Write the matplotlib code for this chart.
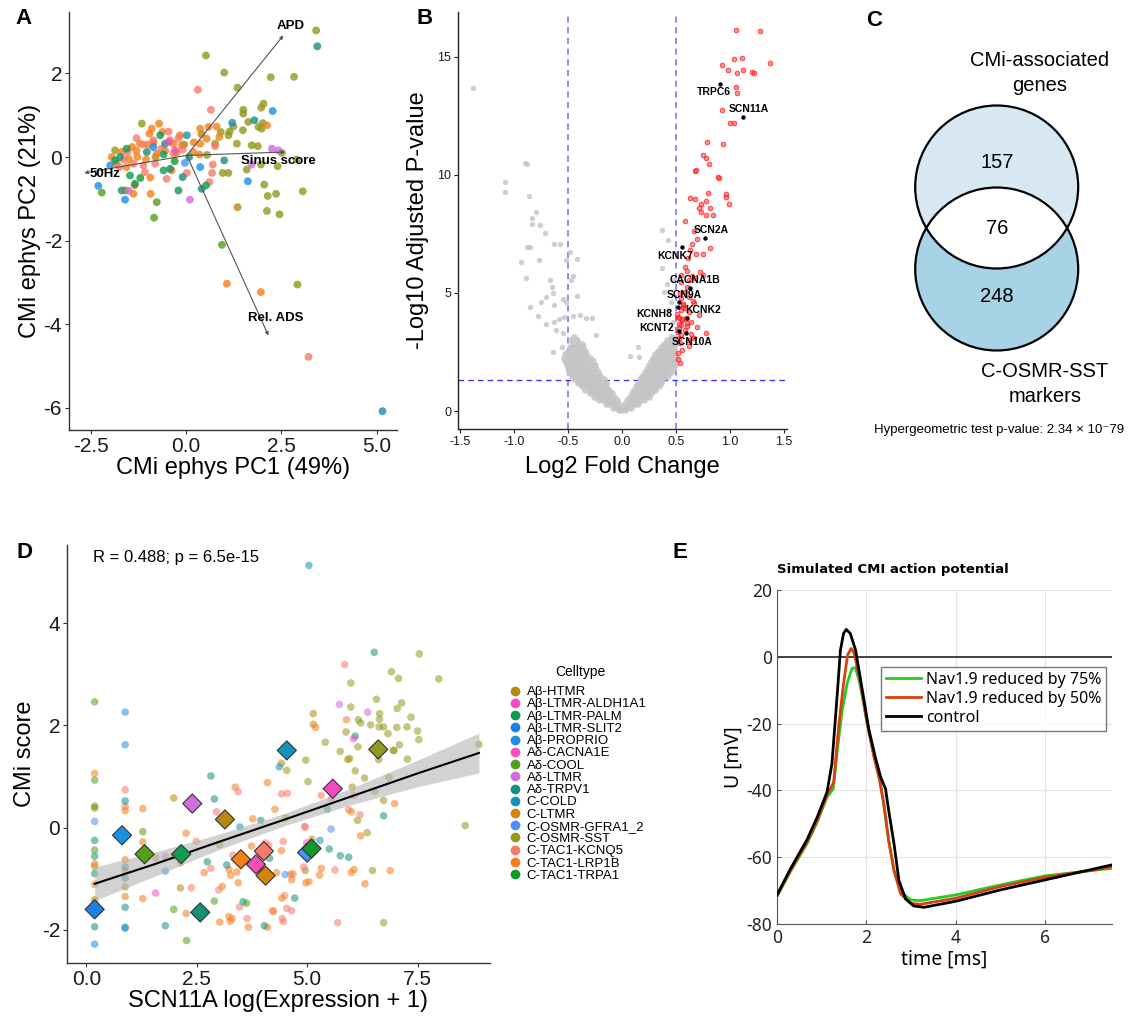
import numpy as np
import matplotlib
matplotlib.use('Agg')
import matplotlib.pyplot as plt
from matplotlib.patches import Circle
from matplotlib.lines import Line2D

plt.rcParams['font.family'] = ['Liberation Sans', 'DejaVu Sans']

# ---------------- data ----------------
celltypes = ['Aβ-HTMR', 'Aβ-LTMR-ALDH1A1', 'Aβ-LTMR-PALM', 'Aβ-LTMR-SLIT2', 'Aβ-PROPRIO',
             'Aδ-CACNA1E', 'Aδ-COOL', 'Aδ-LTMR', 'Aδ-TRPV1', 'C-COLD', 'C-LTMR',
             'C-OSMR-GFRA1_2', 'C-OSMR-SST', 'C-TAC1-KCNQ5', 'C-TAC1-LRP1B', 'C-TAC1-TRPA1']
celltype_colors = ['#B58A12', '#F14CC1', '#0F9B52', '#1B7FE8', '#1B8FE6', '#FA4DB8', '#53A018',
                   '#D16BE0', '#17907B', '#1491B6', '#D4830F', '#4D8FF5', '#93991C', '#F8796A',
                   '#F57F17', '#0D9A26']

# Panel A: PCA of ephys features
a_x = [3.41, 0.52, 1.0, 2.83, 2.22, 1.35, 2.03, 1.97, 1.50, 1.50, 1.63, 2.01, 1.90, 1.98, 1.24, 1.14,
       0.91, 1.11, 1.49, 1.33, 1.72, 1.88, 0.76, 2.40, 1.96, 1.59, 0.96, 1.11, 2.51, 2.90, 2.05, 2.36,
       2.14, 3.06, 2.12, 2.45, 2.92, -1.86, -1.16, 0.55, -0.05,
       1.35, 0.40, -0.80,
       -0.71, -0.90, -0.62, -0.96, -0.16, 0.37, 0.59, 0.80, 2.12, -1.21, -1.42, -1.69, -1.95, -1.82,
       -1.28, -1.05, -0.77, -0.33, -0.11, 0.37, 0.54, 0.19, 0.35, -0.94, -1.35, -1.38, -0.93, -0.38,
       1.07, 1.96, 0.87, -1.56, -1.30, -0.55, -1.00, -0.85, -1.50, 0.20, -0.25,
       0.31, 0.65, -0.46, -0.42, -0.86, -1.12, -1.54, -1.63, -1.38, -1.12, -0.81, -0.33, -0.09, 0.70,
       0.68, 0.61, 0.76, 0.02, -0.51, -1.08, 3.21, -1.75, -1.30, -0.65, -0.20,
       3.44, 1.79, 0.08, 1.00, -1.73, -1.03, -0.42, -0.09, 0.41, -1.69, -0.55,
       -0.68, -0.59, -1.56, -0.59, 0.52, -1.34, -1.47, -1.86, -0.20,
       -0.77, -0.84, 0.94, -2.21, -1.60,
       -1.20, -0.30,
       2.27, -0.86, 0.37, 1.62, -2.30, -1.60, -1.99,
       1.21, 5.15, 0.02,
       -0.03,
       2.25, 2.42, 1.72, 0.10, -1.51,
       -0.29, -0.46]
a_y = [3.03, 2.43, 2.02, 1.92, 1.91, 1.66, 1.28, 1.18, 1.13, 1.04, 0.84, 0.81, 0.72, 0.68, 0.73, 0.61,
       0.60, 0.52, 0.64, 0.32, 0.28, 0.26, 0.32, -0.22, -0.18, -0.30, -0.38, -0.38, 0.10, -0.06, -0.66,
       -0.88, -0.93, -0.82, -1.29, -1.37, -3.05, 0.16, 0.80, 0.05, 0.30,
       -1.20, 0.55, 0.00,
       0.80, 0.68, 0.60, 0.56, 0.52, 0.68, 0.72, 0.73, 0.76, 0.32, 0.24, 0.12, 0.00, -0.16,
       0.00, -0.06, 0.08, 0.32, 0.28, 0.32, 0.44, 0.12, 0.06, -0.49, -0.68, -0.88, -0.88, -0.32,
       -3.03, -3.23, 0.48, -0.24, 0.15, 0.15, 0.30, 0.35, -0.05, 0.35, 0.10,
       1.61, 1.13, 0.61, 0.40, 0.40, 0.30, 0.12, -0.06, -0.16, -0.20, -0.16, 0.08, 0.18, -0.18,
       -0.38, -0.60, 0.26, -0.38, -0.52, -0.36, -4.78, -0.24, 0.45, 0.20, 0.45,
       2.65, 0.88, 0.00, -0.08, 0.00, 0.12, -0.28, -0.48, -0.76, -0.80, 0.32,
       0.52, 0.06, 0.20, -0.32, -0.68, -0.64, -0.44, -0.08, -0.80,
       -1.08, -1.45, -2.10, -0.85, -0.80,
       -0.50, -0.10,
       1.10, 0.24, -0.24, -0.58, -0.69, -1.02, -0.20,
       0.82, -6.08, 0.52,
       -0.14,
       0.20, 0.16, -0.18, -1.02, -0.81,
       0.16, 0.36]
a_type = [12] * 41 + [0] * 3 + [14] * 39 + [13] * 25 + [8] * 11 + [2] * 9 + [6] * 5 + [15] * 2 + \
         [4] * 7 + [9] * 3 + [11] * 1 + [7] * 5 + [1] * 2
a_arrow_names = ['APD', 'Sinus score', 'Rel. ADS', '50Hz']
a_arrow_x = [2.55, 2.60, 2.16, -2.67]
a_arrow_y = [2.91, 0.12, -4.27, -0.38]

# Panel B: volcano
b_gray_rows = [
    (0.05, [-0.03, 0.0, 0.03]),
    (0.15, [-0.08, -0.05, -0.02, 0.02, 0.05, 0.08]),
    (0.30, [-0.15, -0.12, -0.09, -0.06, -0.03, 0.03, 0.06, 0.09, 0.12, 0.15]),
    (0.45, [-0.21, -0.18, -0.15, -0.12, -0.09, -0.05, 0.05, 0.08, 0.11, 0.14, 0.17, 0.20]),
    (0.60, [-0.26, -0.23, -0.20, -0.17, -0.14, -0.11, -0.07, 0.07, 0.10, 0.13, 0.16, 0.19, 0.22, 0.25]),
    (0.75, [-0.30, -0.27, -0.24, -0.21, -0.18, -0.15, -0.12, -0.09, 0.09, 0.12, 0.15, 0.18, 0.21, 0.24, 0.27]),
    (0.90, [-0.34, -0.31, -0.28, -0.25, -0.22, -0.19, -0.16, -0.12, 0.11, 0.14, 0.17, 0.20, 0.23, 0.26, 0.29, 0.31]),
    (1.05, [-0.37, -0.34, -0.31, -0.28, -0.25, -0.22, -0.19, -0.15, 0.13, 0.16, 0.19, 0.22, 0.25, 0.28, 0.31, 0.34]),
    (1.20, [-0.41, -0.38, -0.35, -0.32, -0.29, -0.26, -0.23, -0.19, -0.15, 0.15, 0.18, 0.21, 0.24, 0.27, 0.30, 0.33, 0.36]),
    (1.35, [-0.44, -0.41, -0.38, -0.35, -0.32, -0.29, -0.26, -0.22, -0.17, 0.17, 0.20, 0.23, 0.26, 0.29, 0.32, 0.35, 0.38]),
    (1.50, [-0.46, -0.43, -0.40, -0.37, -0.34, -0.31, -0.28, -0.24, -0.20, 0.19, 0.22, 0.25, 0.28, 0.31, 0.34, 0.37, 0.40, 0.43]),
    (1.65, [-0.48, -0.45, -0.42, -0.39, -0.36, -0.33, -0.30, -0.26, -0.22, 0.21, 0.24, 0.27, 0.30, 0.33, 0.36, 0.39, 0.42, 0.45]),
    (1.80, [-0.50, -0.47, -0.44, -0.41, -0.38, -0.35, -0.32, -0.28, -0.24, 0.23, 0.26, 0.29, 0.32, 0.35, 0.38, 0.41, 0.44, 0.47]),
    (1.95, [-0.51, -0.48, -0.45, -0.42, -0.39, -0.36, -0.33, -0.29, -0.25, 0.25, 0.28, 0.31, 0.34, 0.37, 0.40, 0.43, 0.46, 0.49]),
    (2.10, [-0.53, -0.50, -0.47, -0.44, -0.41, -0.38, -0.35, -0.31, -0.27, 0.27, 0.30, 0.33, 0.36, 0.39, 0.42, 0.45, 0.48]),
    (2.25, [-0.54, -0.50, -0.46, -0.42, -0.38, -0.34, -0.30, 0.29, 0.32, 0.35, 0.38, 0.41, 0.44, 0.47, 0.50]),
    (2.40, [-0.53, -0.49, -0.45, -0.41, -0.37, -0.33, 0.31, 0.34, 0.37, 0.40, 0.43, 0.46, 0.49]),
    (2.55, [-0.50, -0.46, -0.42, -0.38, -0.34, 0.33, 0.36, 0.39, 0.42, 0.45, 0.48]),
    (2.70, [-0.48, -0.44, -0.40, -0.36, 0.36, 0.39, 0.42, 0.45, 0.48]),
    (2.85, [-0.45, -0.41, -0.37, 0.39, 0.42, 0.46, 0.49]),
    (3.00, [-0.47, -0.42, 0.42, 0.45, 0.48]),
    (3.15, [-0.44, 0.45, 0.48]),
]
b_gray_out_x = [-1.38, -1.08, -1.08, -0.90, -0.88, -0.86, -0.80, -0.83, -0.83, -0.76, -0.71, -0.88,
                -0.85, -0.63, -0.57, -0.94, -0.77, -0.52, -0.48, -0.42, -0.89, -0.67, -0.65, -0.64,
                -0.45, -0.47, -0.85, -0.75, -0.70, -0.63, -0.55, -0.52, -0.42, -0.78, -0.70, -0.63,
                -0.58, -0.54, -0.45, -0.39, -0.33, -0.28, -0.61, -0.55, -0.64, -0.56, -0.24, 0.37,
                0.43, 0.37, 0.47, 0.42, 0.39, 0.45, 0.44, 0.47, 0.07, 0.15, 0.16]
b_gray_out_y = [13.69, 9.71, 9.28, 10.51, 10.48, 9.12, 8.41, 8.16, 7.92, 7.86, 7.52, 6.96,
                6.93, 7.06, 7.07, 6.32, 6.39, 6.39, 6.72, 6.42, 5.62, 5.57, 5.24, 5.02,
                5.71, 5.55, 4.39, 4.63, 4.84, 4.49, 4.74, 4.63, 4.88, 4.02, 3.67, 3.78,
                3.88, 3.99, 4.02, 4.06, 3.92, 3.92, 3.43, 3.29, 2.51, 2.72, 3.22, 7.66,
                7.24, 6.04, 5.55, 5.40, 5.05, 4.63, 4.28, 3.78, 2.33, 2.72, 2.30]
b_red_x = [1.06, 1.28, 1.11, 1.04, 0.93, 0.98, 1.12, 1.37, 1.07, 1.21, 1.22, 1.06, 1.07, 0.93, 1.00,
           1.04, 0.79, 0.94, 0.75, 0.78, 0.81, 0.68, 0.69, 0.89, 0.90, 0.80, 0.96, 0.63, 0.68, 0.96,
           0.78, 0.99, 0.73, 0.82, 0.71, 0.73, 0.78, 0.84, 0.58, 0.67, 0.70, 0.65, 0.82, 0.63, 0.75,
           0.69, 0.61, 0.58, 0.72, 0.75, 0.60, 0.55, 0.62, 0.65, 0.68, 0.55, 0.60, 0.58, 0.62, 0.55,
           0.67, 0.57, 0.55, 0.62, 0.71, 0.52, 0.56, 0.60, 0.64, 0.55, 0.53, 0.58, 0.52, 0.78, 0.55,
           0.64, 0.53, 0.61, 0.67, 0.54, 0.62, 0.56, 0.52, 0.52, 0.54, 0.57, 0.53, 0.59, 0.51, 0.66,
           0.70, 0.56, 0.54, 0.58, 0.60, 0.53, 0.57]
b_red_y = [16.13, 16.09, 14.97, 14.93, 14.65, 14.46, 14.46, 14.72, 14.32, 14.36, 14.30, 13.73, 13.45,
           12.74, 12.18, 12.18, 11.40, 11.30, 10.84, 10.72, 10.48, 10.17, 10.22, 9.92, 9.86, 9.24,
           9.21, 9.03, 8.96, 9.05, 8.89, 8.75, 8.76, 8.62, 8.58, 8.44, 8.32, 8.30, 8.04, 7.62, 7.28,
           7.06, 6.89, 6.84, 6.67, 6.67, 6.49, 6.11, 5.87, 5.76, 5.95, 5.76, 5.55, 5.70, 5.62, 5.47,
           5.26, 5.05, 4.84, 4.77, 4.59, 4.49, 4.28, 4.20, 4.06, 3.99, 3.85, 3.74, 3.78, 3.64, 3.50,
           3.43, 3.36, 3.32, 3.22, 3.25, 3.08, 3.01, 3.08, 2.89, 2.75, 2.58, 2.44, 2.20, 2.02, 4.40,
           3.70, 3.95, 4.10, 4.65, 3.55, 3.90, 5.00, 4.35, 3.60, 3.95, 4.55]
b_gene_names = ['TRPC6', 'SCN11A', 'SCN2A', 'KCNK7', 'CACNA1B', 'SCN9A', 'KCNK2', 'KCNH8', 'KCNT2', 'SCN10A']
b_gene_x = [0.91, 1.12, 0.77, 0.56, 0.63, 0.53, 0.60, 0.52, 0.53, 0.59]
b_gene_y = [13.87, 12.46, 7.34, 6.93, 5.23, 4.63, 3.95, 4.42, 3.40, 3.29]
b_label_x = [0.85, 1.18, 0.83, 0.49, 0.68, 0.58, 0.75, 0.30, 0.32, 0.65]
b_label_y = [13.52, 12.78, 7.66, 6.56, 5.55, 4.91, 4.28, 4.09, 3.50, 2.91]

# Panel C: Venn
venn_sets = ['CMi-associated\ngenes', 'C-OSMR-SST\nmarkers']
venn_only_a, venn_both, venn_only_b = 157, 76, 248
venn_p_text = 'Hypergeometric test p-value: 2.34 × 10⁻79'

# Panel D: CMi score vs SCN11A
d_x = [7.54, 6.91, 7.07, 7.98, 5.99, 6.57, 7.14, 5.99, 7.04, 6.64, 7.35, 6.16, 6.21, 6.64, 6.44, 6.63,
       6.73, 7.03, 7.26, 7.50, 5.88, 6.83, 7.53, 5.41, 6.15, 7.09, 6.95, 6.97, 5.75, 8.89, 6.62, 7.27,
       4.97, 6.09, 6.30, 6.85, 5.02, 6.02, 6.53, 6.73, 6.14, 6.36, 8.58, 6.48, 6.73, 4.96, 5.92,
       5.14, 5.14, 5.96, 4.42, 4.54, 4.51, 3.02, 1.98, 0.19, 0.19, 0.19, 0.88, 0.88, 2.13, 1.57, 5.11,
       5.85, 0.88, 0.88, 2.49, 2.82, 3.32, 3.44, 4.06, 4.13, 3.00, 3.47, 3.64, 4.46, 4.42, 4.55, 4.68,
       4.49, 4.54, 4.65, 4.44, 4.46, 4.95, 4.92, 5.32, 5.55, 6.06, 5.94, 6.20, 4.95, 5.63, 5.69, 2.38,
       2.95, 4.24,
       0.19, 0.88, 1.28, 2.26, 1.28, 0.19, 0.19, 0.19, 0.88, 0.88, 1.28, 1.98, 2.13, 2.67, 3.23, 3.27,
       3.41, 3.37, 3.77, 4.10, 4.27, 3.74, 3.44, 3.08, 3.23, 3.30, 3.26, 3.02, 3.67, 4.10, 4.22, 4.31,
       4.42, 4.63, 4.65, 4.43, 4.97, 5.89, 5.19, 6.98, 6.00, 6.21, 5.32, 5.28, 6.00, 6.06, 6.88, 6.31,
       5.04, 2.26,
       6.52, 6.09, 2.82, 2.90, 3.95, 0.88, 0.19, 0.19, 0.19, 0.19, 0.88, 0.88, 0.88, 0.88, 1.79, 2.74,
       3.18, 4.15, 3.55, 4.03, 4.72, 5.46, 6.73, 5.50, 5.75, 5.94,
       0.19, 0.19, 0.19, 1.28, 0.19, 0.19, 1.98, 2.27, 2.90, 3.63,
       3.92, 0.19,
       0.88, 0.88, 0.19, 0.88, 1.79,
       5.04, 4.37, 3.48, 5.29,
       5.54, 4.50, 0.19,
       5.73, 6.37, 1.79,
       6.05, 1.57, 4.99]
d_y = [3.40, 3.05, 2.92, 2.91, 2.83, 2.51, 2.44, 2.36, 2.33, 2.23, 2.16, 2.11, 2.05, 2.12, 2.01, 1.97,
       1.97, 1.96, 1.97, 1.89, 1.87, 1.84, 1.72, 1.67, 1.58, 1.62, 1.51, 1.51, 1.49, 1.63, 1.33, 1.34,
       1.32, 1.11, 0.97, 0.98, 0.90, 0.79, 0.71, 0.53, 0.14, -0.10, 0.04, -0.84, -1.86, -0.84, 1.33,
       2.23, 2.02, 1.35, 1.26, 1.12, 0.19, -0.34, 0.58, 0.38, -0.76, -1.41, -0.85, -1.16, -1.18, -0.59, -0.23,
       3.19, 0.74, 0.41, -0.27, -0.80, -0.54, 0.70, -0.30, -0.35, -1.22, -1.55, -1.78, -0.27, 0.66, 0.67, -0.91,
       -1.33, -1.58, -1.63, -1.78, -1.84, 0.02, -0.77, 0.63, 0.57, 0.63, 0.35, 0.25, 0.01, -0.83, -1.86, -1.18,
       0.31, -1.64,
       1.06, 0.33, 0.37, -0.11, -0.28, -0.71, -1.11, -1.46, -0.63, -1.35, -1.39, -0.56, -0.69, -0.88, -0.82, -0.93,
       -0.87, 0.79, 0.17, 0.88, 0.36, -0.36, -1.08, -1.15, -1.74, -1.78, -1.83, -1.85, -1.95, -1.95, -1.63, -0.88,
       -0.45, -0.91, -1.02, -1.38, -1.08, 2.11, 1.96, 0.47, 0.31, -0.16, -0.80, -0.93, -0.88, -0.82, -0.84, -1.10,
       -1.06, -1.68,
       3.43, 1.79, 1.01, 0.56, 0.14, 0.52, -0.25, -0.56, -0.90, -1.94, -0.77, -0.99, -1.56, -1.95, -1.92, -0.67,
       -0.73, -0.60, -1.45, -1.92, -1.38, 0.36, 0.23, -0.42, -0.55, -0.58,
       2.46, 0.93, 0.42, -0.08, -0.44, -1.69, -1.60, -2.21, -1.44, -1.48,
       -0.82, -1.65,
       2.26, 1.62, -2.28, -1.97, -0.85,
       5.13, 1.19, 0.01, -0.25,
       -0.03, -0.92, 0.12,
       2.41, 2.26, -0.56,
       1.74, -1.28, -0.30]
d_type = [12] * 47 + [0] * 16 + [13] * 34 + [14] * 50 + [8] * 26 + [6] * 10 + [15] * 2 + [4] * 5 + \
         [9] * 4 + [11] * 3 + [7] * 3 + [1] * 3
d_mean_x = [3.14, 5.58, 2.15, 0.19, 0.81, 3.84, 1.32, 2.40, 2.58, 4.54, 4.06, 5.00, 6.61, 4.02, 3.50, 5.10]
d_mean_y = [0.16, 0.76, -0.52, -1.60, -0.15, -0.72, -0.52, 0.47, -1.66, 1.51, -0.94, -0.49, 1.53, -0.46, -0.62, -0.41]
d_fit_x = [0.19, 1.5, 3.0, 4.5, 6.0, 7.5, 8.89]
d_fit_y = [-1.10, -0.73, -0.28, 0.16, 0.61, 1.06, 1.46]
d_fit_half = [0.33, 0.24, 0.15, 0.12, 0.16, 0.26, 0.39]
d_stat_text = 'R = 0.488; p = 6.5e-15'

# Panel E: simulated action potentials
e_t_ctrl = [0.0, 0.3, 0.67, 0.9, 1.12, 1.23, 1.35, 1.42, 1.49, 1.55, 1.64, 1.76, 1.91, 2.06, 2.2, 2.32,
            2.43, 2.5, 2.62, 2.73, 2.88, 3.06, 3.29, 4.0, 5.0, 6.0, 7.5]
e_v_ctrl = [-71.3, -63.5, -54.8, -48.0, -40.5, -32.0, -11.0, 2.0, 7.0, 8.2, 7.0, 2.0, -10.0, -22.0, -30.0,
            -36.0, -39.5, -46.0, -56.0, -67.0, -72.5, -74.6, -75.0, -73.2, -69.8, -66.8, -62.3]
e_t_50 = [0.0, 0.3, 0.67, 0.9, 1.12, 1.27, 1.38, 1.49, 1.58, 1.66, 1.73, 1.87, 2.02, 2.17, 2.3, 2.39,
          2.5, 2.62, 2.77, 2.99, 3.21, 4.0, 5.0, 6.0, 7.5]
e_v_50 = [-71.5, -64.0, -55.5, -49.0, -41.5, -37.5, -21.0, -8.0, 0.5, 2.5, 1.0, -8.0, -20.0, -30.0, -37.0,
          -44.0, -55.0, -64.0, -71.0, -73.8, -74.1, -72.3, -68.8, -66.0, -63.0]
e_t_75 = [0.0, 0.3, 0.67, 0.9, 1.12, 1.26, 1.35, 1.46, 1.57, 1.68, 1.76, 1.87, 2.02, 2.17, 2.3, 2.39,
          2.5, 2.62, 2.77, 2.99, 3.21, 4.0, 5.0, 6.0, 7.5]
e_v_75 = [-71.8, -64.3, -56.0, -49.5, -42.0, -39.5, -28.0, -16.0, -8.0, -3.5, -3.2, -9.0, -20.0, -29.0,
          -37.0, -44.0, -55.0, -64.0, -70.3, -72.8, -73.0, -71.3, -68.3, -65.6, -63.3]
e_labels = ['Nav1.9 reduced by 75%', 'Nav1.9 reduced by 50%', 'control']
e_colors = ['#22CC22', '#D9400F', '#000000']

# ---------------- figure ----------------
W, H = 1136, 1018
fig = plt.figure(figsize=(W / 100, H / 100), dpi=100)


def rect(l, t, r, b):
    return [l / W, 1 - b / H, (r - l) / W, (b - t) / H]


def gg_style(ax, tick_size, axis_color='#333333'):
    for s in ['top', 'right']:
        ax.spines[s].set_visible(False)
    for s in ['left', 'bottom']:
        ax.spines[s].set_color(axis_color)
        ax.spines[s].set_linewidth(1.0)
    ax.tick_params(length=3, width=0.8, color=axis_color, labelsize=tick_size, labelcolor='#1a1a1a', pad=2)


# Panel A
ax_a = fig.add_axes(rect(69, 12, 397, 430))
ax_a.scatter(a_x, a_y, c=[celltype_colors[i] for i in a_type], s=32, alpha=0.8, linewidths=0, zorder=2)
ox, oy = 0.02, 0.04
for name, ex, ey in zip(a_arrow_names, a_arrow_x, a_arrow_y):
    ax_a.annotate('', xy=(ex, ey), xytext=(ox, oy),
                  arrowprops=dict(arrowstyle='-|>', color='#555555', lw=0.8, mutation_scale=5,
                                  shrinkA=0, shrinkB=0), zorder=3)
label_pos = {'APD': (2.73, 3.13), 'Sinus score': (2.42, -0.10), 'Rel. ADS': (2.34, -3.84), '50Hz': (-2.12, -0.40)}
for name in a_arrow_names:
    lx, ly = label_pos[name]
    ax_a.text(lx, ly, name, fontsize=9.5, fontweight='bold', ha='center', va='center', zorder=4)
ax_a.set_xlim(-3.07, 5.53)
ax_a.set_ylim(-6.53, 3.47)
ax_a.set_xticks([-2.5, 0, 2.5, 5.0])
ax_a.set_xticklabels(['-2.5', '0.0', '2.5', '5.0'])
ax_a.set_yticks([-6, -4, -2, 0, 2])
ax_a.set_yticklabels(['-6', '-4', '-2', '0', '2'])
gg_style(ax_a, 15)
ax_a.set_xlabel('CMi ephys PC1 (49%)', fontsize=17, labelpad=1)
ax_a.set_ylabel('CMi ephys PC2 (21%)', fontsize=17, labelpad=2)

# Panel B
ax_b = fig.add_axes(rect(458, 12, 787, 429))
gx, gy = [], []
for yv, xs in b_gray_rows:
    gx += xs
    gy += [yv] * len(xs)
ax_b.scatter(gx, gy, s=22, color='#C4C4C4', alpha=0.85, linewidths=0, zorder=2)
ax_b.scatter(b_gray_out_x, b_gray_out_y, s=15, color='#C4C4C4', alpha=0.8, linewidths=0, zorder=2)
ax_b.scatter(b_red_x, b_red_y, s=12, facecolor=(1, 0.25, 0.25, 0.6), edgecolor=(1, 0, 0, 0.8),
             linewidths=0.5, zorder=3)
ax_b.scatter(b_gene_x, b_gene_y, s=10, color='black', linewidths=0, zorder=4)
for n, lx, ly in zip(b_gene_names, b_label_x, b_label_y):
    ax_b.text(lx, ly, n, fontsize=7.5, fontweight='bold', ha='center', va='center', zorder=5)
ax_b.axvline(-0.5, color='#6E6EF5', lw=1.1, ls=(0, (4, 3)), zorder=1)
ax_b.axvline(0.5, color='#6E6EF5', lw=1.1, ls=(0, (4, 3)), zorder=1)
ax_b.axhline(1.3, color='#3A3AEE', lw=1.0, ls=(0, (4, 3)), zorder=1)
ax_b.set_xlim(-1.52, 1.53)
ax_b.set_ylim(-0.76, 16.9)
ax_b.set_xticks([-1.5, -1.0, -0.5, 0, 0.5, 1.0, 1.5])
ax_b.set_xticklabels(['-1.5', '-1.0', '-0.5', '0.0', '0.5', '1.0', '1.5'])
ax_b.set_yticks([0, 5, 10, 15])
gg_style(ax_b, 9, axis_color='#222222')
ax_b.set_xlabel('Log2 Fold Change', fontsize=17, labelpad=6)
ax_b.set_ylabel('-Log10 Adjusted P-value', fontsize=17, labelpad=6)

# Panel C
ax_c = fig.add_axes(rect(795, 0, 1136, 458))
ax_c.set_xlim(795, 1136)
ax_c.set_ylim(458, 0)
ax_c.axis('off')
c_up = Circle((996.7, 187), 81.5, facecolor='#D7E8F2', edgecolor='none', zorder=1)
c_lo = Circle((996.7, 269), 81.5, facecolor='#A8D2E6', edgecolor='none', zorder=1)
ax_c.add_patch(c_up)
ax_c.add_patch(c_lo)
lens = Circle((996.7, 187), 81.5, facecolor='white', edgecolor='none', zorder=2)
ax_c.add_patch(lens)
lens.set_clip_path(c_lo)
for cy in (187, 269):
    ax_c.add_patch(Circle((996.7, cy), 81.5, facecolor='none', edgecolor='black', lw=1.6, zorder=3))
ax_c.text(996.7, 162, str(venn_only_a), fontsize=14.5, ha='center', va='center', zorder=4)
ax_c.text(996.7, 229, str(venn_both), fontsize=14.5, ha='center', va='center', zorder=4)
ax_c.text(996.7, 296, str(venn_only_b), fontsize=14.5, ha='center', va='center', zorder=4)
ax_c.text(1040, 73, venn_sets[0], fontsize=14.5, ha='center', va='center', linespacing=1.35)
ax_c.text(1045, 384, venn_sets[1], fontsize=14.5, ha='center', va='center', linespacing=1.35)
ax_c.text(999, 430, venn_p_text, fontsize=9.5, ha='center', va='center',
          family=['Liberation Sans', 'DejaVu Sans'])

# Panel D
ax_d = fig.add_axes(rect(67, 545, 490, 963))
ax_d.scatter(d_x, d_y, c=[celltype_colors[i] for i in d_type], s=30, alpha=0.55, linewidths=0, zorder=2)
lo = [y - h for y, h in zip(d_fit_y, d_fit_half)]
hi = [y + h for y, h in zip(d_fit_y, d_fit_half)]
ax_d.fill_between(d_fit_x, lo, hi, color='#B5B5B5', alpha=0.6, lw=0, zorder=3)
ax_d.plot(d_fit_x, d_fit_y, color='black', lw=1.5, zorder=4)
ax_d.scatter(d_mean_x, d_mean_y, c=celltype_colors, marker='D', s=95, edgecolors='#333333',
             linewidths=0.8, zorder=5)
ax_d.text(0.16, 5.28, d_stat_text, fontsize=12, ha='left', va='center')
ax_d.set_xlim(-0.436, 9.14)
ax_d.set_ylim(-2.65, 5.53)
ax_d.set_xticks([0, 2.5, 5.0, 7.5])
ax_d.set_xticklabels(['0.0', '2.5', '5.0', '7.5'])
ax_d.set_yticks([-2, 0, 2, 4])
ax_d.set_yticklabels(['-2', '0', '2', '4'])
gg_style(ax_d, 15)
ax_d.set_xlabel('SCN11A log(Expression + 1)', fontsize=17, labelpad=1)
ax_d.set_ylabel('CMi score', fontsize=17, labelpad=4)
handles = [Line2D([0], [0], marker='o', ls='', color=c, markersize=6) for c in celltype_colors]
fig.text(580 / W, 1 - 672 / H, 'Celltype', fontsize=10, ha='center', va='center')
leg = ax_d.legend(handles, celltypes, loc='upper left',
                  bbox_to_anchor=(508 / W, 1 - 686 / H), bbox_transform=fig.transFigure,
                  frameon=False, fontsize=9.5, labelspacing=0.0,
                  handletextpad=0.4, handlelength=1.0, borderpad=0, borderaxespad=0)

# Panel E
efont = ['Noto Sans', 'DejaVu Sans']
ax_e = fig.add_axes(rect(777, 590, 1112, 924))
ax_e.grid(True, color='#E3E3E3', lw=0.8, zorder=0)
ax_e.axhline(0, color='#333333', lw=1.3, zorder=2)
for t, v, lab, col in zip([e_t_75, e_t_50, e_t_ctrl], [e_v_75, e_v_50, e_v_ctrl], e_labels, e_colors):
    ax_e.plot(t, v, color=col, lw=2.0, label=lab, zorder=3)
ax_e.set_xlim(0, 7.5)
ax_e.set_ylim(-80, 20)
ax_e.set_xticks([0, 2, 4, 6])
ax_e.set_yticks([-80, -60, -40, -20, 0, 20])
ax_e.set_yticklabels(['-80', '-60', '-40', '-20', '0', '20'], family=efont)
ax_e.set_xticklabels(['0', '2', '4', '6'], family=efont)
for s in ['top', 'right']:
    ax_e.spines[s].set_visible(False)
for s in ['left', 'bottom']:
    ax_e.spines[s].set_color('#555555')
ax_e.tick_params(direction='in', length=3, labelsize=12.5, color='#555555', labelcolor='#222222')
ax_e.set_xlabel('time [ms]', fontsize=14, family=efont, labelpad=2)
ax_e.set_ylabel('U [mV]', fontsize=14, family=efont, labelpad=2)
ax_e.set_title('Simulated CMI action potential', loc='left', fontsize=9.5, fontweight='bold',
               family=['DejaVu Sans'], pad=12)
ax_e.legend(loc='upper right', bbox_to_anchor=(0.983, 0.77), prop={'family': efont, 'size': 11.5},
            frameon=True, fancybox=False, edgecolor='#555555', handlelength=2.2, borderpad=0.3,
            labelspacing=0.2, handletextpad=0.3, borderaxespad=0)

# Panel letters
for letter, px, py in [('A', 24, 19), ('B', 425, 19), ('C', 874, 20), ('D', 24, 552), ('E', 680, 552)]:
    fig.text(px / W, 1 - py / H, letter, fontsize=16, fontweight='bold', ha='center', va='center')

fig.savefig('out.png', dpi=100)
